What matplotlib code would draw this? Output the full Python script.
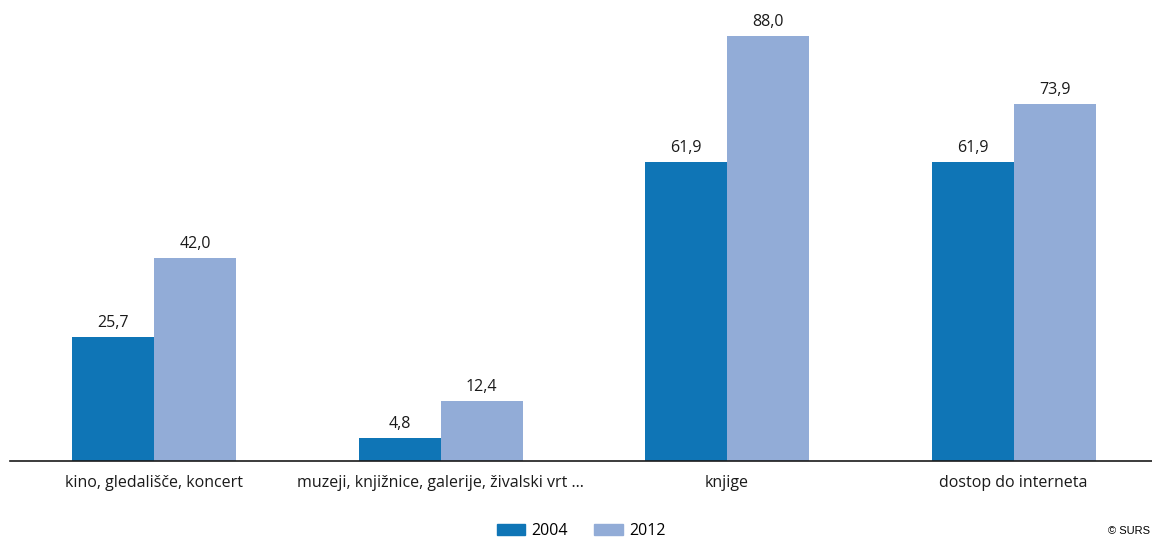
import matplotlib
matplotlib.use("Agg")
import matplotlib.pyplot as plt
import numpy as np
from matplotlib.patches import Patch

categories = ["kino, gledališče, koncert", "muzeji, knjižnice, galerije, živalski vrt ...",
              "knjige", "dostop do interneta"]
years = ["2004", "2012"]
v2004 = [25.7, 4.8, 61.9, 61.9]
v2012 = [42.0, 12.4, 88.0, 73.9]
colors = ["#0f75b6", "#92acd7"]

plt.rcParams['font.family'] = ['Open Sans', 'DejaVu Sans']

fig = plt.figure(figsize=(11.52, 5.39), dpi=100)
ax = fig.add_axes([10/1152, 1 - 461/539, 1142/1152, 461/539])

x = np.arange(len(categories))
w = 82/286.5
b1 = ax.bar(x - w/2, v2004, w, color=colors[0])
b2 = ax.bar(x + w/2, v2012, w, color=colors[1])
for bars in (b1, b2):
    for r in bars:
        ax.text(r.get_x() + r.get_width()/2, r.get_height() + 1.3,
                f"{r.get_height():.1f}".replace(".", ","),
                ha="center", va="bottom", fontsize=11.5, color="#1a1a1a")

ax.set_xlim(-144/286.5, (1152-154)/286.5)
ax.set_ylim(0, 461/4.83)
ax.set_xticks(x)
ax.set_xticklabels(categories, fontsize=11.5, color="#1a1a1a")
ax.tick_params(axis="x", length=0, pad=10)
ax.set_yticks([])
for s in ["top", "right", "left"]:
    ax.spines[s].set_visible(False)
ax.spines["bottom"].set_color("#1a1a1a")
ax.spines["bottom"].set_linewidth(1.2)

handles = [Patch(color=c, label=y) for c, y in zip(colors, years)]
fig.legend(handles=handles, loc="center", bbox_to_anchor=(581/1152, 1 - 531/539),
           ncol=2, frameon=False, fontsize=11.5, handlelength=1.8, handleheight=0.75,
           columnspacing=1.6, handletextpad=0.4)
fig.text(1150/1152, 1 - 531/539, "© SURS", fontsize=8, va="center", ha="right",
         family=["Liberation Sans", "DejaVu Sans"])

fig.savefig("out.png", dpi=100)
